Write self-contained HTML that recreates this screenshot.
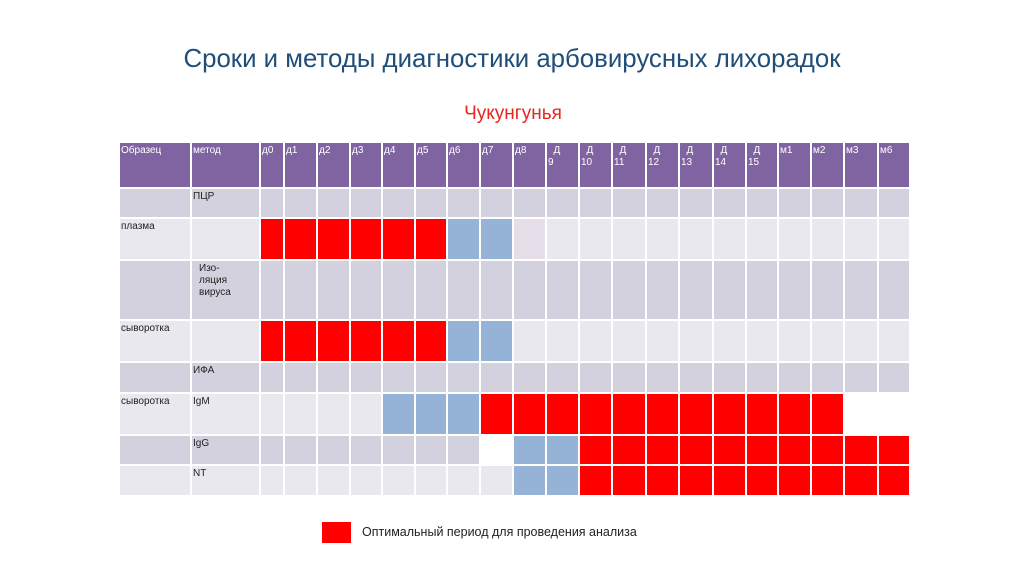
<!DOCTYPE html>
<html><head><meta charset="utf-8"><style>
body{margin:0;width:1024px;height:574px;background:#fff;position:relative;overflow:hidden;font-family:"Liberation Sans","DejaVu Sans",sans-serif}
.c{position:absolute;box-sizing:border-box;font-size:10px;color:#222;padding:2px 1px;line-height:12px;overflow:hidden}
.h{color:#fff;background:#8064a2}
</style></head><body>
<div style="position:absolute;left:0;width:1024px;top:45px;text-align:center;font-size:25.8px;color:#1f4e79">Сроки и методы диагностики арбовирусных лихорадок</div>
<div style="position:absolute;left:0;width:1024px;top:103px;text-align:center;font-size:19px;color:#e8251f;padding-left:1px">Чукунгунья</div>
<div id="tbl"></div>
<div style="position:absolute;left:322px;top:522px;width:29px;height:21px;background:#ff0000"></div>
<div style="position:absolute;left:362px;top:525px;font-size:12.5px;color:#222">Оптимальный период для проведения анализа</div>
<script>
const columns=["д0","д1","д2","д3","д4","д5","д6","д7","д8","Д 9","Д 10","Д 11","Д 12","Д 13","Д 14","Д 15","м1","м2","м3","м6"];
const sampleLabels=["","плазма","","сыворотка","","сыворотка","",""];
const methodLabels=["ПЦР","","Изо-<br>ляция<br>вируса","","ИФА","IgM","IgG","NT"];
// states: 0 none, 1 optimal(red), 2 possible(blue), 3 white, 4 faint
const rowPCR   =[0,0,0,0,0,0,0,0,0,0,0,0,0,0,0,0,0,0,0,0];
const rowPlasma=[1,1,1,1,1,1,2,2,4,0,0,0,0,0,0,0,0,0,0,0];
const rowIsol  =[0,0,0,0,0,0,0,0,0,0,0,0,0,0,0,0,0,0,0,0];
const rowSerum =[1,1,1,1,1,1,2,2,0,0,0,0,0,0,0,0,0,0,0,0];
const rowELISA =[0,0,0,0,0,0,0,0,0,0,0,0,0,0,0,0,0,0,0,0];
const rowIgM   =[0,0,0,0,2,2,2,1,1,1,1,1,1,1,1,1,1,1,3,3];
const rowIgG   =[0,0,0,0,0,0,0,3,2,2,1,1,1,1,1,1,1,1,1,1];
const rowNT    =[0,0,0,0,0,0,0,0,2,2,1,1,1,1,1,1,1,1,1,1];
const rows=[rowPCR,rowPlasma,rowIsol,rowSerum,rowELISA,rowIgM,rowIgG,rowNT];
const colX=[120,192,261,285,318,351,383,416,448,481,514,547,580,613,647,680,714,747,779,812,845,879,911];
const rowY=[143,189,219,261,321,363,394,436,466,497];
const band=[true,false,true,false,true,false,true,false];
const tbl=document.getElementById('tbl');
function cell(x1,x2,y1,y2,bg,html,cls,name){
  const d=document.createElement('div');
  d.className='c '+(cls||'');
  d.style.left=x1+'px';d.style.top=y1+'px';
  d.style.width=(x2-x1-2)+'px';d.style.height=(y2-y1-2)+'px';
  d.style.background=bg;d.innerHTML=html;
  
  
  tbl.appendChild(d);
}
cell(colX[0],colX[1],rowY[0],rowY[1],'#8064a2','Образец','h','header-sample');
cell(colX[1],colX[2],rowY[0],rowY[1],'#8064a2','метод','h','header-method');
columns.forEach((c,i)=>{
  const t=c.startsWith('Д ')?'&nbsp;&nbsp;Д<br>'+c.slice(2):c;
  cell(colX[i+2],colX[i+3],rowY[0],rowY[1],'#8064a2',t,'h','header-'+(i<16?'day':'month'));
});
const colorOf=(s,b)=>[b?'#d4d1de':'#e9e8ee','#ff0000','#95b3d7','#ffffff','#e6dfea'][s];
rows.forEach((r,ri)=>{
  const y1=rowY[ri+1],y2=rowY[ri+2],b=band[ri];
  cell(colX[0],colX[1],y1,y2,colorOf(0,b),sampleLabels[ri],'','sample-cell');
  cell(colX[1],colX[2],y1,y2,colorOf(0,b),methodLabels[ri]===''?'':(ri===2?'<span style="padding-left:6px;display:inline-block">'+methodLabels[ri]+'</span>':methodLabels[ri]),'','method-cell');
  r.forEach((s,ci)=>{
    cell(colX[ci+2],colX[ci+3],y1,y2,colorOf(s,b),'','',s===1?'optimal-cell':(s===2?'possible-cell':'empty-cell'));
  });
});
</script>
</body></html>
